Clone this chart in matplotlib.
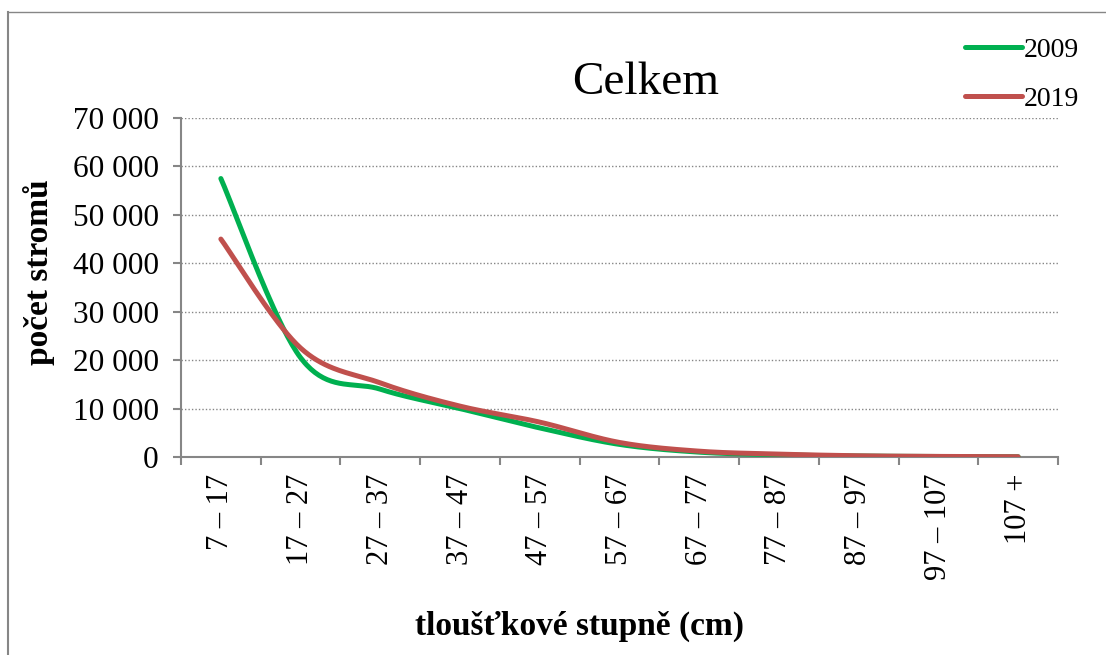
import numpy as np
import matplotlib
matplotlib.use("Agg")
import matplotlib.pyplot as plt
from matplotlib.lines import Line2D
from matplotlib.ticker import FuncFormatter

# ========== DATA ==========
categories = ["7 – 17", "17 – 27", "27 – 37", "37 – 47", "47 – 57", "57 – 67",
              "67 – 77", "77 – 87", "87 – 97", "97 – 107", "107 +"]
values_2009 = [57500, 20500, 14000, 10000, 6000, 2600, 1000, 450, 200, 100, 50]
values_2019 = [45000, 22500, 15300, 10500, 7200, 3000, 1200, 600, 250, 120, 60]

plt.rcParams['font.family'] = ['Liberation Serif', 'DejaVu Serif']


# Excel-like smoothed line (cubic Bezier, control points at 1/6 of neighbour span)
def smooth(xs, ys, n=40):
    pts = np.column_stack([xs, ys]).astype(float)
    out = [pts[0]]
    for i in range(len(pts) - 1):
        p0 = pts[i - 1] if i > 0 else pts[i]
        p1 = pts[i]
        p2 = pts[i + 1]
        p3 = pts[i + 2] if i + 2 < len(pts) else pts[i + 1]
        c1 = p1 + (p2 - p0) / 6
        c2 = p2 - (p3 - p1) / 6
        t = np.linspace(0, 1, n)[1:, None]
        seg = ((1 - t) ** 3) * p1 + 3 * ((1 - t) ** 2) * t * c1 + 3 * (1 - t) * t ** 2 * c2 + t ** 3 * p2
        out.extend(seg)
    out = np.array(out)
    return out[:, 0], out[:, 1]


fig = plt.figure(figsize=(11.06, 6.55), dpi=100)
ax = fig.add_axes([181 / 1106, 1 - 457 / 655, (1058 - 181) / 1106, (457 - 118) / 655])

LW = 3.6
x = np.arange(len(categories))
sx, sy = smooth(x, values_2009)
ax.plot(sx, sy, color='#00B050', lw=LW, solid_capstyle='round', zorder=3)
sx, sy = smooth(x, values_2019)
ax.plot(sx, sy, color='#C0504D', lw=LW, solid_capstyle='round', zorder=4)

ax.set_xlim(-0.5, len(categories) - 0.5)
ax.set_ylim(0, 70000)
ax.set_yticks(np.arange(0, 70001, 10000))
ax.yaxis.set_major_formatter(FuncFormatter(lambda v, p: f"{int(v):,}".replace(",", " ")))
ax.grid(axis='y', color='#868686', linestyle=(0, (1, 1.5)), linewidth=1)

ax.set_xticks(np.arange(-0.5, len(categories), 1))
ax.set_xticklabels([])
ax.set_xticks(x, minor=True)
ax.set_xticklabels(categories, minor=True, rotation=90, fontsize=22)
ax.tick_params(axis='x', which='minor', length=0, pad=12)
ax.tick_params(axis='x', which='major', length=6, color='#868686', width=1.5)
ax.tick_params(axis='y', length=6, color='#868686', width=1.5, labelsize=22.5, pad=10)

for s in ['top', 'right']:
    ax.spines[s].set_visible(False)
for s in ['left', 'bottom']:
    ax.spines[s].set_color('#868686')
    ax.spines[s].set_linewidth(1.5)

ax.set_title("Celkem", fontsize=34, y=1.045, x=0.53)
ax.set_ylabel("počet stromů", fontsize=24, fontweight='bold')
ax.yaxis.set_label_coords(-0.144, 0.546)
ax.set_xlabel("tloušťkové stupně (cm)", fontsize=24, fontweight='bold')
ax.xaxis.set_label_coords(0.454, -0.455)

handles = [Line2D([], [], color='#00B050', lw=LW, solid_capstyle='round'),
           Line2D([], [], color='#C0504D', lw=LW, solid_capstyle='round')]
fig.legend(handles, ["2009", "2019"], loc='upper left', bbox_to_anchor=(954 / 1106, 1 - 26 / 655),
           frameon=False, fontsize=20, handlelength=2.05, handletextpad=0.05, labelspacing=0.85,
           borderaxespad=0)

# frame of the original image (left and top edges)
fig.add_artist(Line2D([8 / 1106, 8 / 1106], [0, 1 - 12 / 655], transform=fig.transFigure, color='#868686', lw=1.5))
fig.add_artist(Line2D([8 / 1106, 1], [1 - 12 / 655, 1 - 12 / 655], transform=fig.transFigure, color='#868686', lw=1))

fig.savefig("out.png", dpi=100)
